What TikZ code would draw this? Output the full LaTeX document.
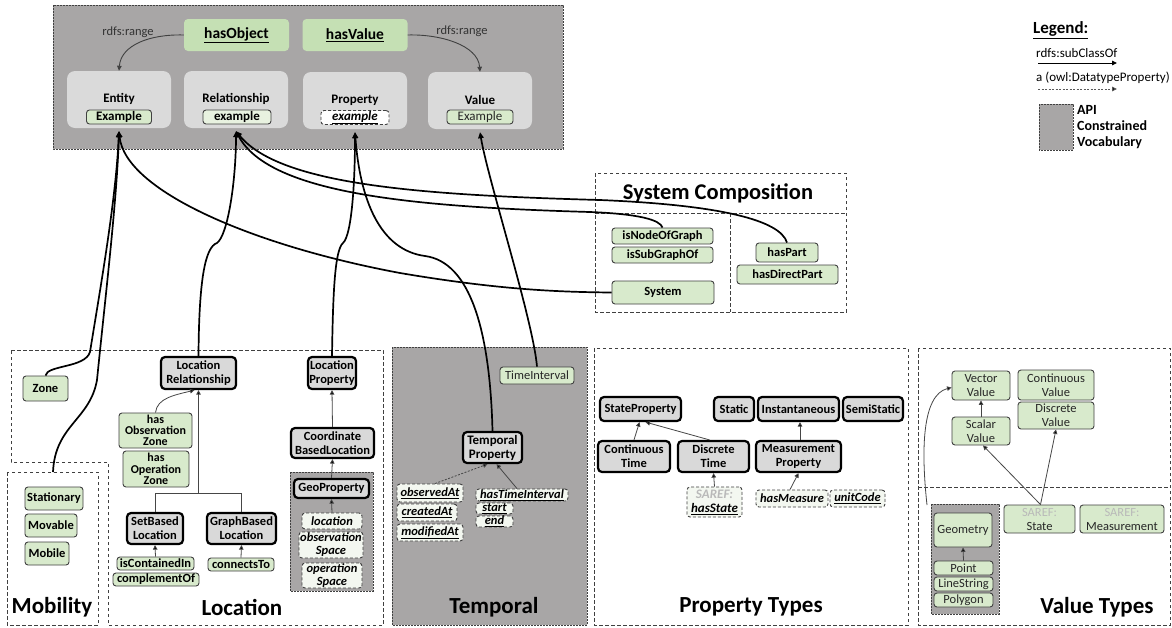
\documentclass[tikz,border=0pt]{standalone}
\usepackage{fontspec}
\setmainfont{Carlito}
\usetikzlibrary{arrows.meta}
\definecolor{apigray}{RGB}{168,166,166}
\definecolor{clsgray}{RGB}{217,217,217}
\definecolor{bigbox}{RGB}{218,218,218}
\definecolor{lgreen}{RGB}{216,234,204}
\definecolor{hgreen}{RGB}{197,224,180}
\definecolor{egray}{RGB}{64,64,64}
\definecolor{pfill}{RGB}{243,247,240}
\newcommand{\myfs}[2]{\fontsize{#1}{#2}\selectfont}
\begin{document}
\begin{tikzpicture}[x=1pt,y=-1pt,
  cls/.style={draw=black, line width=2.2pt, fill=clsgray, rounded corners=4pt, align=center, inner sep=0pt, font=\bfseries\myfs{12.5}{14}},
  gn/.style={draw=egray, line width=0.9pt, fill=lgreen, rounded corners=3pt, align=center, inner sep=0pt, font=\bfseries\myfs{12.5}{13}},
  gnr/.style={draw=egray, line width=0.9pt, fill=lgreen, rounded corners=3pt, align=center, inner sep=0pt, font=\myfs{12.5}{14}, text=black!85},
  dp/.style={draw=egray, dash pattern=on 3pt off 2pt, line width=0.9pt, fill=pfill, rounded corners=3pt, align=center, inner sep=0pt, font=\bfseries\itshape\myfs{12.5}{13}},
  hg/.style={fill=hgreen, rounded corners=4pt, minimum width=105, minimum height=32, inner sep=0pt, font=\bfseries\myfs{15.5}{17}},
  bb/.style={fill=bigbox, rounded corners=8pt, minimum width=104, minimum height=57, inner sep=0pt},
  blab/.style={font=\bfseries\myfs{13}{15}, inner sep=0pt},
  rl/.style={font=\myfs{12.5}{14}, text=black!80, inner sep=0pt},
  region/.style={draw=egray, line width=0.9pt, dash pattern=on 3.5pt off 2.5pt},
  api/.style={draw=egray, line width=0.8pt, dash pattern=on 2pt off 1pt, fill=apigray},
  conn/.style={line width=1.7pt, -{Triangle[length=6pt,width=5.5pt]}},
  sub/.style={line width=0.8pt, draw=gray!55!black, -{Triangle[length=4.5pt,width=4.5pt,fill=black]}},
  subd/.style={sub, dash pattern=on 2pt off 1.5pt},
  rng/.style={line width=0.9pt, draw=egray, -{Triangle[length=5pt,width=4.5pt]}},
  title/.style={font=\bfseries\myfs{23}{25}, inner sep=0pt}
]
\useasboundingbox (0,0) rectangle (1172,627);
\fill[white] (0,0) rectangle (1172,627);
% ---------- regions
\draw[api] (53,5) rectangle (563,149);
\draw[region] (11,350) -- (383,350) -- (383,625) -- (108,625) -- (108,462) -- (11,462) -- cycle;
\draw[region] (7,472) rectangle (98,625);
\draw[api] (392,347) rectangle (587,625);
\draw[region] (594,348) rectangle (908,625);
\draw[region] (918,348) rectangle (1170,625);
\draw[region] (918,487) -- (1170,487);
\draw[region] (595,173) rectangle (846,312);
\draw[region] (595,213) -- (846,213);
\draw[region] (730,213) -- (730,312);
\draw[api] (290,472) rectangle (373,591);
\draw[api] (931,504) rectangle (999,614);
\draw[api] (1039,104) rectangle (1073,150);

% ---------- titles
\node[title] (tMob) at (52,607) {Mobility};
\node[title] (tLoc) at (242,607) {Location};
\node[title] (tTmp) at (494,607) {Temporal};
\node[title] (tPT) at (751,607) {Property Types};
\node[title] (tVT) at (1097,607) {Value Types};
\node[font=\bfseries\myfs{22.5}{24}, inner sep=0pt] (tSC) at (718,193) {System Composition};

% ---------- legend
\node[anchor=west, font=\bfseries\myfs{17}{19}, inner sep=0pt] (leg) at (1033,30) {\underline{Legend:}};
\node[anchor=west, font=\myfs{13}{15}, inner sep=0pt] (lsub) at (1036,53) {rdfs:subClassOf};
\coordinate (ls1) at (1038,63); \coordinate (ls2) at (1117,63);
\draw[line width=0.9pt, -{Triangle[length=5pt,width=4.5pt]}] (ls1) -- (ls2);
\node[anchor=west, font=\myfs{13}{15}, inner sep=0pt] (ldt) at (1036,78) {a (owl:DatatypeProperty)};
\coordinate (ld1) at (1038,89); \coordinate (ld2) at (1117,89);
\draw[line width=0.9pt, draw=gray!70!black, dash pattern=on 2pt off 1.5pt, -{Triangle[length=5pt,width=4.5pt,fill=black]}] (ld1) -- (ld2);
\node[anchor=north west, align=left, font=\bfseries\myfs{14}{16.3}, inner sep=0pt] (lapi) at (1077,105) {API\\Constrained\\Vocabulary};

% ---------- top box
\node[hg] (hasobj) at (236.5,35) {\underline{hasObject}};
\node[hg] (hasval) at (355,35) {\underline{hasValue}};
\node[rl] (rngL) at (128,32) {rdfs:range};
\node[rl] (rngR) at (462,31) {rdfs:range};
\node[bb] (entity) at (119,99.5) {};
\node[bb] (relat) at (236,99.5) {};
\node[bb] (prop) at (355,100.5) {};
\node[bb] (value) at (480,100.5) {};
\node[blab] (entityL) at (119,99) {Entity};
\node[blab] (relatL) at (236,99) {Relationship};
\node[blab] (propL) at (355,100) {Property};
\node[blab] (valueL) at (480,100) {Value};
\node[gn, font=\bfseries\myfs{13}{14}, minimum width=65, minimum height=14] (exE) at (119,117) {Example};
\node[gn, fill=lgreen!60!white, font=\bfseries\myfs{13}{14}, minimum width=68, minimum height=14] (exR) at (237,117) {example};
\node[dp, fill=white, font=\bfseries\itshape\myfs{13}{14}, minimum width=68, minimum height=14] (exP) at (355,117.5) {\underline{example}};
\node[gnr, font=\myfs{13}{14}, minimum width=66, minimum height=14] (exV) at (480,117) {Example};
\draw[rng] (hasobj.west) .. controls (150,34) and (121,45) .. (entity.north);
\draw[rng] (hasval.east) .. controls (440,34) and (478,45) .. (value.north);

% ---------- system composition
\node[gn, minimum width=101, minimum height=16] (isnode) at (662.5,236) {isNodeOfGraph};
\node[gn, minimum width=101, minimum height=16] (issub) at (662.5,255) {isSubGraphOf};
\node[gn, minimum width=102, minimum height=23] (system) at (663,292.5) {System};
\node[gn, minimum width=62, minimum height=19] (haspart) at (787,252.5) {hasPart};
\node[gn, minimum width=101, minimum height=19] (hasdirect) at (787.5,274.5) {hasDirectPart};

% ---------- mobility / zone
\node[gn, minimum width=45, minimum height=25] (zone) at (45.5,388.5) {Zone};
\node[gn, minimum width=58, minimum height=23] (stat) at (54,498.5) {Stationary};
\node[gn, minimum width=52, minimum height=23] (movable) at (51,525.5) {Movable};
\node[gn, minimum width=44, minimum height=23] (mobile) at (47,553.5) {Mobile};
\coordinate (mobtop) at (53,472);

% ---------- location
\node[cls, minimum width=75, minimum height=32] (locrel) at (198.5,373) {Location\\Relationship};
\node[cls, minimum width=48, minimum height=32] (locprop) at (332,373) {Location\\Property};
\node[gn, font=\bfseries\myfs{12}{11.3}, minimum width=73, minimum height=35] (hasobs) at (155.5,430.5) {has\\Observation\\Zone};
\node[gn, font=\bfseries\myfs{12}{11.3}, minimum width=66, minimum height=36] (hasop) at (156,469) {has\\Operation\\Zone};
\node[cls, minimum width=56, minimum height=31] (setb) at (155,528.5) {SetBased\\Location};
\node[cls, minimum width=69, minimum height=31] (graphb) at (241.5,528.5) {GraphBased\\Location};
\node[gn, font=\bfseries\myfs{12.5}{12}, minimum width=77, minimum height=13] (iscont) at (155.5,563.5) {isContainedIn};
\node[gn, font=\bfseries\myfs{12.5}{12}, minimum width=86, minimum height=13] (compl) at (156,579.5) {complementOf};
\node[gn, minimum width=66, minimum height=13] (conn) at (241,564.5) {connectsTo};
\node[cls, minimum width=83, minimum height=30] (coordb) at (332.5,443) {Coordinate\\BasedLocation};
\node[cls, minimum width=75, minimum height=19] (geoprop) at (331.5,488.5) {GeoProperty};
\node[dp, minimum width=60, minimum height=16] (loc) at (332,521) {location};
\node[dp, font=\bfseries\itshape\myfs{12.5}{13}, minimum width=64, minimum height=26] (obss) at (331,545) {observation\\Space};
\node[dp, font=\bfseries\itshape\myfs{12.5}{13}, minimum width=60, minimum height=25] (ops) at (332,575.5) {operation\\Space};

\coordinate (lj) at (198.5,493);
\draw[line width=0.8pt, draw=gray!55!black] (setb.north) |- (graphb.north |- lj) -- (graphb.north);
\draw[sub] (locrel.south |- lj) -- (locrel.south);
\draw[sub] (hasobs.north) .. controls (157,398) and (175,395) .. ([xshift=-4pt]locrel.south);
\draw[sub] (iscont.north) -- (setb.south);
\draw[sub] (conn.north) -- (graphb.south);
\draw[sub] (coordb.north) -- (locprop.south);
\draw[sub] (geoprop.north) -- (coordb.south);
\draw[sub] (loc.north) -- (geoprop.south);

% ---------- temporal
\node[gnr, minimum width=74, minimum height=17] (timeint) at (537,375.5) {TimeInterval};
\node[cls, font=\bfseries\myfs{13}{14}, minimum width=59, minimum height=31] (tempprop) at (492.5,447.5) {Temporal\\Property};
\node[dp, minimum width=66, minimum height=18] (obsat) at (430,493) {\underline{observedAt}};
\node[dp, minimum width=60, minimum height=17] (creat) at (427,512.5) {\underline{createdAt}};
\node[dp, minimum width=66, minimum height=17] (modat) at (430,532.5) {\underline{modifiedAt}};
\node[dp, minimum width=92, minimum height=12] (hasti) at (522,495) {\underline{hasTimeInterval}};
\node[dp, minimum width=37, minimum height=11] (start) at (494.5,508.5) {\underline{start}};
\node[dp, minimum width=37, minimum height=11] (endn) at (494.5,521.5) {\underline{end}};
\draw[subd] ([xshift=5pt]obsat.north) -- ([xshift=-5pt]tempprop.south);
\draw[sub] ([xshift=-5pt]hasti.north) -- ([xshift=4pt]tempprop.south);

% ---------- property types
\node[cls, minimum width=81, minimum height=24] (stateprop) at (640.5,409) {StateProperty};
\node[cls, minimum width=40, minimum height=24] (static) at (734,409) {Static};
\node[cls, minimum width=81, minimum height=24] (instant) at (798.5,409) {Instantaneous};
\node[cls, minimum width=60, minimum height=24] (semist) at (873,409) {SemiStatic};
\node[cls, minimum width=72, minimum height=31] (contt) at (634,456.5) {Continuous\\Time};
\node[cls, minimum width=71, minimum height=31] (disct) at (713.5,456.5) {Discrete\\Time};
\node[cls, minimum width=85, minimum height=31] (measp) at (798.5,456.5) {Measurement\\Property};
\node[dp, font=\bfseries\itshape\myfs{13}{14}, minimum width=55, minimum height=30] (hasstate) at (714.5,502) {{\color{gray!55}SAREF:}\\\underline{hasState}};
\node[dp, minimum width=72, minimum height=17] (hasmeas) at (792,498.5) {hasMeasure};
\node[dp, minimum width=55, minimum height=17] (unitc) at (857.5,498.5) {\underline{unitCode}};
\draw[sub] (contt.north) -- ([xshift=-1pt]stateprop.south);
\draw[sub] ([xshift=-4pt]disct.north) -- ([xshift=5pt]stateprop.south);
\draw[sub] ([xshift=1.5pt]measp.north) -- ([xshift=1.5pt]instant.south);
\draw[sub] (hasstate.north) -- (disct.south);
\draw[sub] ([xshift=-2pt]hasmeas.north) -- (measp.south);

% ---------- value types
\node[gnr, minimum width=58, minimum height=29] (vector) at (981,385.5) {Vector\\Value};
\node[gnr, minimum width=76, minimum height=30] (contv) at (1056,385) {Continuous\\Value};
\node[gnr, minimum width=76, minimum height=27] (discv) at (1056,415.5) {Discrete\\Value};
\node[gnr, minimum width=58, minimum height=28] (scalar) at (981,431) {Scalar\\Value};
\node[gnr, minimum width=71, minimum height=28] (sstate) at (1039.5,519) {{\color{gray!55}SAREF:}\\State};
\node[gnr, minimum width=84, minimum height=28] (smeas) at (1122,519) {{\color{gray!55}SAREF:}\\Measurement};
\node[gnr, minimum width=58, minimum height=34] (geom) at (963,530) {Geometry};
\node[gnr, minimum width=59, minimum height=14] (point) at (963.5,568) {Point};
\node[gnr, minimum width=59, minimum height=14] (lines) at (963.5,584) {LineString};
\node[gnr, minimum width=59, minimum height=14] (polyg) at (963.5,600) {Polygon};
\coordinate (geotop) at (927,505);
\draw[sub] (scalar.north) -- (vector.south);
\draw[sub] ([xshift=1pt]sstate.north) -- ([xshift=2pt]scalar.south);
\draw[sub] ([xshift=1pt]sstate.north) -- (discv.south);
\draw[sub] (point.north) -- (geom.south);
\draw[sub] (geotop) .. controls (921,450) and (922,395) .. ([yshift=-2pt]vector.west);

% ---------- long connectors
\coordinate (eA) at ([yshift=-3pt]entity.south);
\coordinate (eB) at ([yshift=-3pt]relat.south);
\coordinate (eC) at ([yshift=-3pt]prop.south);
\coordinate (eD) at ([yshift=-3pt]value.south);
\draw[conn] (zone.north) .. controls (47,365) and (85,368) .. (90,352) .. controls (100,290) and (116,200) .. (eA);
\draw[conn] (mobtop) .. controls (55,425) and (90,420) .. (97,380) .. controls (105,300) and (117,200) .. (eA);
\draw[conn] (system.west) .. controls (560,292) and (500,290) .. (400,273) .. controls (250,245) and (125,190) .. (eA);
\draw[conn] (locrel.north) .. controls (199,280) and (205,247) .. (217,243) .. controls (228,235) and (236,180) .. (eB);
\draw[conn] (isnode.north) .. controls (660,220) and (640,214) .. (590,212) .. controls (420,207) and (270,195) .. (eB);
\draw[conn] (haspart.north) .. controls (780,220) and (720,205) .. (600,200) .. controls (420,195) and (280,185) .. (eB);
\draw[conn] (locprop.north) .. controls (333,290) and (335,250) .. (343,243) .. controls (352,235) and (355,180) .. (eC);
\draw[conn] (tempprop.north) .. controls (490,330) and (470,262) .. (425,256) .. controls (380,250) and (360,200) .. (eC);
\draw[conn] (timeint.north) .. controls (533,320) and (488,180) .. (eD);
\end{tikzpicture}
\end{document}
